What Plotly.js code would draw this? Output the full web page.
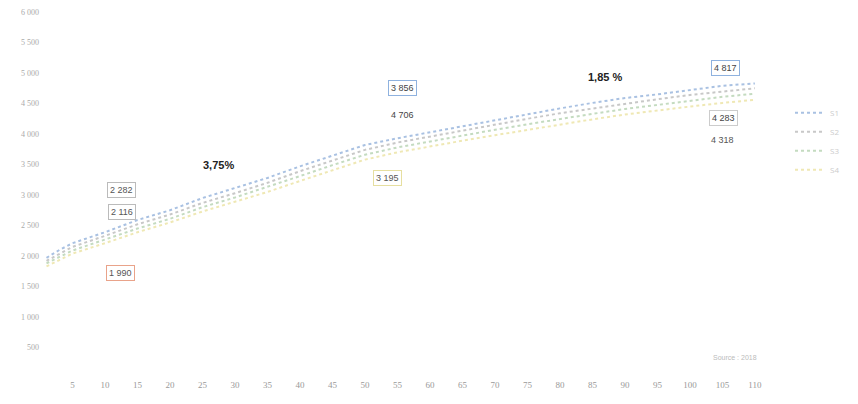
<!DOCTYPE html>
<html>
<head>
<meta charset="utf-8">
<script src="https://cdn.plot.ly/plotly-3.0.1.min.js"></script>
<style>html,body{margin:0;padding:0;background:#fff}#chart{width:858px;height:404px}</style>
</head>
<body>
<div id="chart"></div>
<script>
const xValues = [1, 3, 5, 10, 15, 20, 25, 30, 35, 40, 45, 50, 55, 60, 65, 70, 75, 80, 85, 90, 95, 100, 105, 110];
const seriesA = [1970, 2100, 2210, 2390, 2590, 2750, 2950, 3110, 3280, 3470, 3650, 3820, 3930, 4030, 4130, 4230, 4330, 4420, 4510, 4590, 4650, 4720, 4790, 4830];
const seriesB = [1920, 2040, 2150, 2330, 2520, 2680, 2870, 3030, 3200, 3390, 3570, 3740, 3860, 3960, 4060, 4160, 4250, 4340, 4420, 4500, 4570, 4640, 4700, 4750];
const seriesC = [1880, 1990, 2090, 2270, 2450, 2610, 2800, 2960, 3130, 3310, 3490, 3660, 3780, 3880, 3980, 4070, 4160, 4250, 4330, 4410, 4480, 4540, 4610, 4660];
const seriesD = [1830, 1940, 2040, 2210, 2390, 2550, 2730, 2890, 3050, 3230, 3410, 3580, 3700, 3800, 3890, 3980, 4070, 4160, 4240, 4320, 4390, 4450, 4510, 4560];
const seriesNames = ["S1", "S2", "S3", "S4"];
const seriesColors = ["#a9c1e2", "#c8c8c8", "#c4dbc0", "#efe8b4"];
const xTicks = [5, 10, 15, 20, 25, 30, 35, 40, 45, 50, 55, 60, 65, 70, 75, 80, 85, 90, 95, 100, 105, 110];
const yTicks = [500, 1000, 1500, 2000, 2500, 3000, 3500, 4000, 4500, 5000, 5500, 6000];
const yTickText = ["500", "1 000", "1 500", "2 000", "2 500", "3 000", "3 500", "4 000", "4 500", "5 000", "5 500", "6 000"];
const labelTexts = ["3,75%", "1,85 %", "2 282", "2 116", "1 990", "3 856", "4 706", "3 195", "4 817", "4 283", "4 318"];
const labelX = [27.4, 87, 12.6, 12.6, 12.4, 55.7, 55.7, 53.5, 105.4, 105.2, 105.0];
const labelY = [3490, 4930, 3080, 2720, 1720, 4750, 4310, 3280, 5080, 4260, 3900];
const labelColors = ["#222", "#222", "#555", "#555", "#555", "#444", "#444", "#555", "#444", "#444", "#555"];
const labelBorders = ["rgba(0,0,0,0)", "rgba(0,0,0,0)", "#bbb", "#bbb", "#e9a38a", "#8fb2df", "rgba(0,0,0,0)", "#e6dfa0", "#8fb2df", "#ccc", "rgba(0,0,0,0)"];
const labelBold = [true, true, false, false, false, false, false, false, false, false, false];

const allSeries = [seriesA, seriesB, seriesC, seriesD];
const traces = allSeries.map((ys, i) => ({
  x: xValues, y: ys, type: "scatter", mode: "lines", name: seriesNames[i],
  line: {color: seriesColors[i], width: 2, dash: "dot"}
}));

const annotations = labelTexts.map((t, i) => ({
  x: labelX[i], y: labelY[i], xref: "x", yref: "y", text: labelBold[i] ? "<b>" + t + "</b>" : t,
  showarrow: false, font: {family: "Liberation Sans, Arial, sans-serif", size: labelBold[i] ? 11 : 9, color: labelColors[i]},
  bordercolor: labelBorders[i], borderwidth: 1, borderpad: 2, bgcolor: "rgba(255,255,255,0.85)"
}));
annotations.push({
  x: 107, y: 330, xref: "x", yref: "y", text: "Source : 2018", showarrow: false,
  font: {family: "Liberation Sans, Arial, sans-serif", size: 7, color: "#bbb"}
});

const layout = {
  width: 858, height: 404,
  margin: {l: 40, r: 68, t: 10, b: 26, autoexpand: false},
  paper_bgcolor: "#fff", plot_bgcolor: "#fff",
  showlegend: true,
  legend: {x: 1.0, y: 0.76, xanchor: "left", yanchor: "top", font: {size: 8, color: "#ccc"}, bgcolor: "rgba(0,0,0,0)", itemwidth: 30},
  xaxis: {range: [0, 115.4], tickvals: xTicks, ticktext: xTicks.map(String), showgrid: false, zeroline: false, showline: false, ticks: "",
    tickfont: {family: "Liberation Serif, serif", size: 9, color: "#999"}},
  yaxis: {range: [0, 6033], tickvals: yTicks, ticktext: yTickText, showgrid: false, zeroline: false, showline: false, ticks: "",
    tickfont: {family: "Liberation Serif, serif", size: 8, color: "#aaa"}},
  annotations: annotations
};
Plotly.newPlot("chart", traces, layout, {displayModeBar: false, staticPlot: true});
</script>
</body>
</html>
